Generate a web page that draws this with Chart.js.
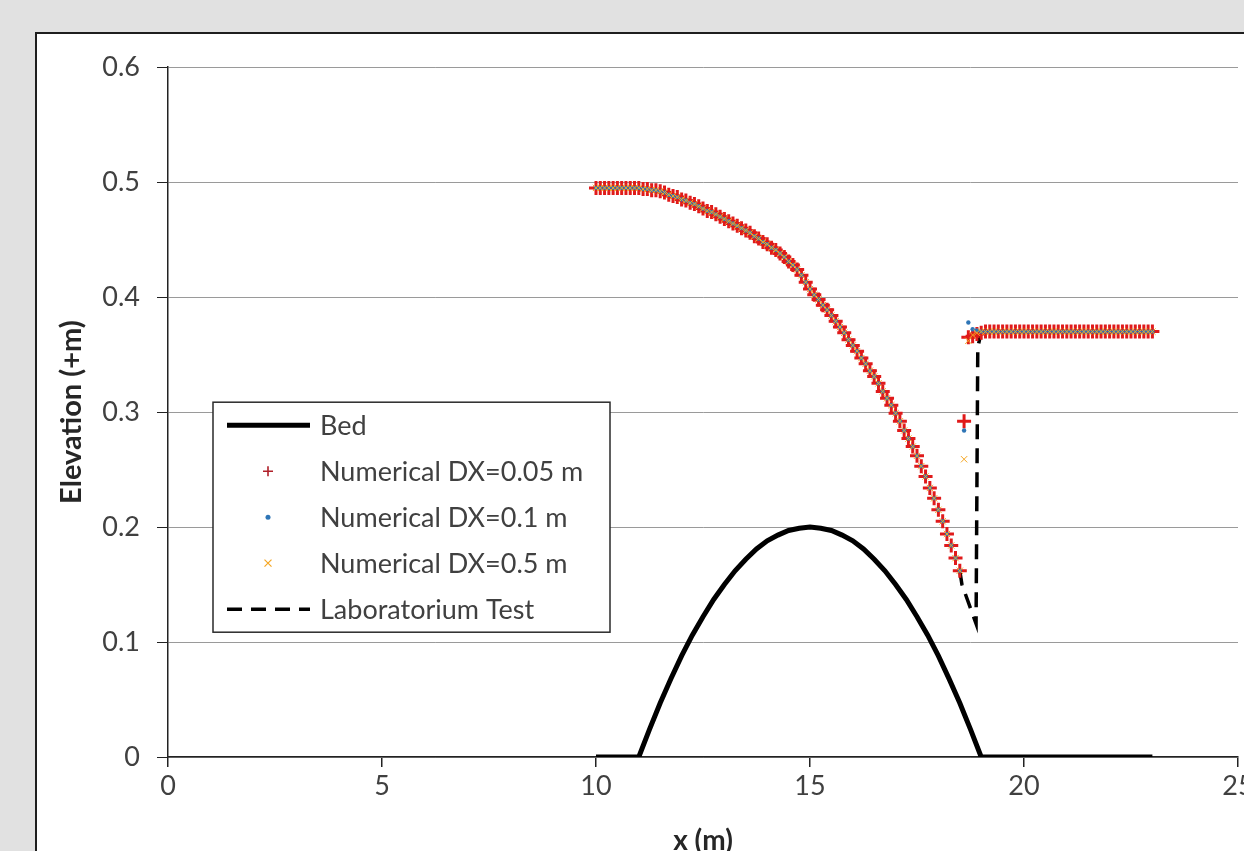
<!DOCTYPE html>
<html>
<head>
<meta charset="utf-8">
<title>Water surface profile over a bump</title>
<script src="https://cdn.jsdelivr.net/npm/chart.js@4.4.1/dist/chart.umd.min.js"></script>
<style>
  html, body { margin: 0; padding: 0; }
  body { width: 1244px; height: 851px; overflow: hidden; background: #e1e1e1; position: relative; }
  #frame { position: absolute; left: 35px; top: 32px; width: 1259px; height: 843px; border: 2px solid #1e1e1e; background: #fff; }
  #profileChart { display: block; }
</style>
</head>
<body>
<div id="frame"><canvas id="profileChart" width="1259" height="843"></canvas></div>
<script>
// bed profile (bump between x = 11 and x = 19)
const bedX = [10, 11, 11.25, 11.5, 11.75, 12, 12.25, 12.5, 12.75, 13, 13.25, 13.5, 13.75, 14, 14.25, 14.5, 14.75,
              15, 15.25, 15.5, 15.75, 16, 16.25, 16.5, 16.75, 17, 17.25, 17.5, 17.75, 18, 18.25, 18.5, 18.75, 19, 23];
const bedZ = [0, 0, 0.024, 0.047, 0.068, 0.088, 0.106, 0.122, 0.137, 0.150, 0.162, 0.172, 0.181, 0.188, 0.193, 0.197, 0.199,
              0.200, 0.199, 0.197, 0.193, 0.188, 0.181, 0.172, 0.162, 0.150, 0.137, 0.122, 0.106, 0.088, 0.068, 0.047, 0.024, 0, 0];

// output stations of the numerical runs
const gridX = [
  10.0, 10.1, 10.2, 10.3, 10.4, 10.5, 10.6, 10.7, 10.8, 10.9,
  11.0, 11.1, 11.2, 11.3, 11.4, 11.5, 11.6, 11.7, 11.8, 11.9,
  12.0, 12.1, 12.2, 12.3, 12.4, 12.5, 12.6, 12.7, 12.8, 12.9,
  13.0, 13.1, 13.2, 13.3, 13.4, 13.5, 13.6, 13.7, 13.8, 13.9,
  14.0, 14.1, 14.2, 14.3, 14.4, 14.5, 14.6, 14.7, 14.8, 14.9,
  15.0, 15.1, 15.2, 15.3, 15.4, 15.5, 15.6, 15.7, 15.8, 15.9,
  16.0, 16.1, 16.2, 16.3, 16.4, 16.5, 16.6, 16.7, 16.8, 16.9,
  17.0, 17.1, 17.2, 17.3, 17.4, 17.5, 17.6, 17.7, 17.8, 17.9,
  18.0, 18.1, 18.2, 18.3, 18.4, 18.5, 18.6, 18.7, 18.8, 18.9,
  19.0, 19.1, 19.2, 19.3, 19.4, 19.5, 19.6, 19.7, 19.8, 19.9,
  20.0, 20.1, 20.2, 20.3, 20.4, 20.5, 20.6, 20.7, 20.8, 20.9,
  21.0, 21.1, 21.2, 21.3, 21.4, 21.5, 21.6, 21.7, 21.8, 21.9,
  22.0, 22.1, 22.2, 22.3, 22.4, 22.5, 22.6, 22.7, 22.8, 22.9,
  23.0
];

// water level x = 10.0 .. 18.5 (same for all runs)
const upstreamLevel = [
  0.495, 0.495, 0.495, 0.495, 0.495, 0.495, 0.495, 0.495, 0.495, 0.495,
  0.495, 0.494, 0.494, 0.493, 0.493, 0.492, 0.491, 0.489, 0.488, 0.487,
  0.485, 0.484, 0.482, 0.481, 0.479, 0.477, 0.475, 0.474, 0.472, 0.470,
  0.468, 0.466, 0.464, 0.462, 0.460, 0.458, 0.456, 0.453, 0.451, 0.448,
  0.446, 0.443, 0.441, 0.438, 0.435, 0.431, 0.428, 0.424, 0.419, 0.413,
  0.407, 0.402, 0.398, 0.393, 0.389, 0.384, 0.379, 0.374, 0.369, 0.363,
  0.358, 0.353, 0.347, 0.342, 0.336, 0.331, 0.325, 0.318, 0.312, 0.306,
  0.299, 0.292, 0.284, 0.277, 0.270, 0.262, 0.253, 0.244, 0.234, 0.225,
  0.215, 0.205, 0.194, 0.184, 0.173, 0.162
];

// water level x = 18.6 .. 23.0 (hydraulic jump and tailwater)
const jumpLevel005 = [
  0.292, 0.365, 0.366, 0.368, 0.369,
  0.37, 0.37, 0.37, 0.37, 0.37, 0.37, 0.37, 0.37, 0.37, 0.37,
  0.37, 0.37, 0.37, 0.37, 0.37, 0.37, 0.37, 0.37, 0.37, 0.37,
  0.37, 0.37, 0.37, 0.37, 0.37, 0.37, 0.37, 0.37, 0.37, 0.37,
  0.37, 0.37, 0.37, 0.37, 0.37, 0.37, 0.37, 0.37, 0.37, 0.37
];
const jumpLevel01 = [
  0.284, 0.378, 0.372, 0.371,
  0.37, 0.37, 0.37, 0.37, 0.37, 0.37, 0.37, 0.37, 0.37, 0.37, 0.37,
  0.37, 0.37, 0.37, 0.37, 0.37, 0.37, 0.37, 0.37, 0.37, 0.37, 0.37,
  0.37, 0.37, 0.37, 0.37, 0.37, 0.37, 0.37, 0.37, 0.37, 0.37, 0.37,
  0.37, 0.37, 0.37, 0.37, 0.37, 0.37, 0.37, 0.37
];
const jumpLevel05 = [
  0.259, 0.362, 0.367, 0.369,
  0.37, 0.37, 0.37, 0.37, 0.37, 0.37, 0.37, 0.37, 0.37, 0.37, 0.37,
  0.37, 0.37, 0.37, 0.37, 0.37, 0.37, 0.37, 0.37, 0.37, 0.37, 0.37,
  0.37, 0.37, 0.37, 0.37, 0.37, 0.37, 0.37, 0.37, 0.37, 0.37, 0.37,
  0.37, 0.37, 0.37, 0.37, 0.37, 0.37, 0.37, 0.37
];

// laboratory measurement
const labX = [18.5, 18.55, 18.88, 18.92, 19.0, 23.0];
const labY = [0.162, 0.150, 0.116, 0.356, 0.37, 0.37];

function toPoints(xs, ys) {
  return xs.map((x, i) => ({ x: x, y: ys[i] }));
}

// legend drawn inside the plot like the spreadsheet one
const legendBox = {
  id: 'legendBox',
  afterDatasetsDraw(chart) {
    const ctx = chart.ctx;
    const area = chart.chartArea;
    const x0 = area.left + 45, y0 = area.top + 335, w = 397, h = 230;
    ctx.save();
    ctx.fillStyle = '#fff';
    ctx.fillRect(x0, y0, w, h);
    ctx.strokeStyle = '#2a2a2a';
    ctx.lineWidth = 1.5;
    ctx.strokeRect(x0, y0, w, h);

    chart.data.datasets.forEach((ds, i) => {
      const cy = y0 + 23 + i * 46;
      const mx = x0 + 55;
      ctx.save();
      if (ds.showLine) {
        ctx.strokeStyle = ds.borderColor;
        ctx.lineWidth = ds.borderWidth;
        ctx.setLineDash(ds.borderDash || []);
        ctx.beginPath();
        ctx.moveTo(x0 + 14, cy);
        ctx.lineTo(x0 + 97, cy);
        ctx.stroke();
      } else if (ds.pointStyle === 'cross') {
        ctx.strokeStyle = '#b0202a';
        ctx.lineWidth = 1.6;
        ctx.beginPath();
        ctx.moveTo(mx - 5, cy); ctx.lineTo(mx + 5, cy);
        ctx.moveTo(mx, cy - 5); ctx.lineTo(mx, cy + 5);
        ctx.stroke();
      } else if (ds.pointStyle === 'crossRot') {
        ctx.strokeStyle = ds.borderColor;
        ctx.lineWidth = 1.2;
        ctx.beginPath();
        ctx.moveTo(mx - 3.5, cy - 3.5); ctx.lineTo(mx + 3.5, cy + 3.5);
        ctx.moveTo(mx + 3.5, cy - 3.5); ctx.lineTo(mx - 3.5, cy + 3.5);
        ctx.stroke();
      } else {
        ctx.fillStyle = ds.backgroundColor;
        ctx.beginPath();
        ctx.arc(mx, cy, 2.5, 0, Math.PI * 2);
        ctx.fill();
      }
      ctx.restore();
      ctx.fillStyle = '#404040';
      ctx.font = '27px Lato';
      ctx.textBaseline = 'middle';
      ctx.fillText(ds.label, x0 + 107, cy + 1);
    });
    ctx.restore();
  }
};

Chart.defaults.font.family = 'Lato, sans-serif';

new Chart(document.getElementById('profileChart'), {
  type: 'scatter',
  data: {
    datasets: [
      {
        label: 'Bed',
        data: toPoints(bedX, bedZ),
        showLine: true,
        borderColor: '#000',
        borderWidth: 5,
        pointRadius: 0,
        order: 5
      },
      {
        label: 'Numerical DX=0.05 m',
        data: toPoints(gridX, upstreamLevel.concat(jumpLevel005)),
        pointStyle: 'cross',
        pointRadius: 7,
        borderColor: '#e01a1a',
        backgroundColor: '#e01a1a',
        borderWidth: 3,
        order: 3
      },
      {
        label: 'Numerical DX=0.1 m',
        data: toPoints(gridX, upstreamLevel.concat(jumpLevel01)),
        pointStyle: 'circle',
        pointRadius: 2.2,
        borderColor: '#2e75b6',
        backgroundColor: '#2e75b6',
        borderWidth: 0,
        order: 2
      },
      {
        label: 'Numerical DX=0.5 m',
        data: toPoints(gridX, upstreamLevel.concat(jumpLevel05)),
        pointStyle: 'crossRot',
        pointRadius: 4.5,
        borderColor: '#f5a623',
        backgroundColor: '#f5a623',
        borderWidth: 1,
        order: 1
      },
      {
        label: 'Laboratorium Test',
        data: toPoints(labX, labY),
        showLine: true,
        borderColor: '#000',
        borderWidth: 3.5,
        borderDash: [15, 9],
        pointRadius: 0,
        order: 6
      }
    ]
  },
  options: {
    responsive: false,
    animation: false,
    layout: { padding: { top: 30, right: 58, left: 0, bottom: 0 } },
    plugins: {
      legend: { display: false },
      tooltip: { enabled: false }
    },
    scales: {
      x: {
        type: 'linear',
        min: 0,
        max: 25,
        ticks: { stepSize: 5, color: '#404040', font: { size: 27 }, padding: 3, maxRotation: 0 },
        grid: { drawOnChartArea: false, tickLength: 10, tickColor: '#222', lineWidth: 1.5 },
        border: { color: '#222', width: 1.5 },
        title: { display: true, text: 'x (m)', color: '#262626', font: { size: 28, weight: 'bold' }, padding: { top: 0, bottom: 19 } },
        afterFit: (scale) => { scale.height = 120; }
      },
      y: {
        min: 0,
        max: 0.6,
        ticks: { stepSize: 0.1, color: '#404040', font: { size: 27 }, padding: 17 },
        grid: { color: '#9a9a9a', tickColor: '#222', tickLength: 11 },
        border: { color: '#222', width: 1.5 },
        title: { display: true, text: 'Elevation (+m)', color: '#262626', font: { size: 29, weight: 'bold' }, padding: { top: 17, bottom: 0 } },
        afterFit: (scale) => { scale.width = 131; }
      }
    }
  },
  plugins: [legendBox]
});
</script>
</body>
</html>
